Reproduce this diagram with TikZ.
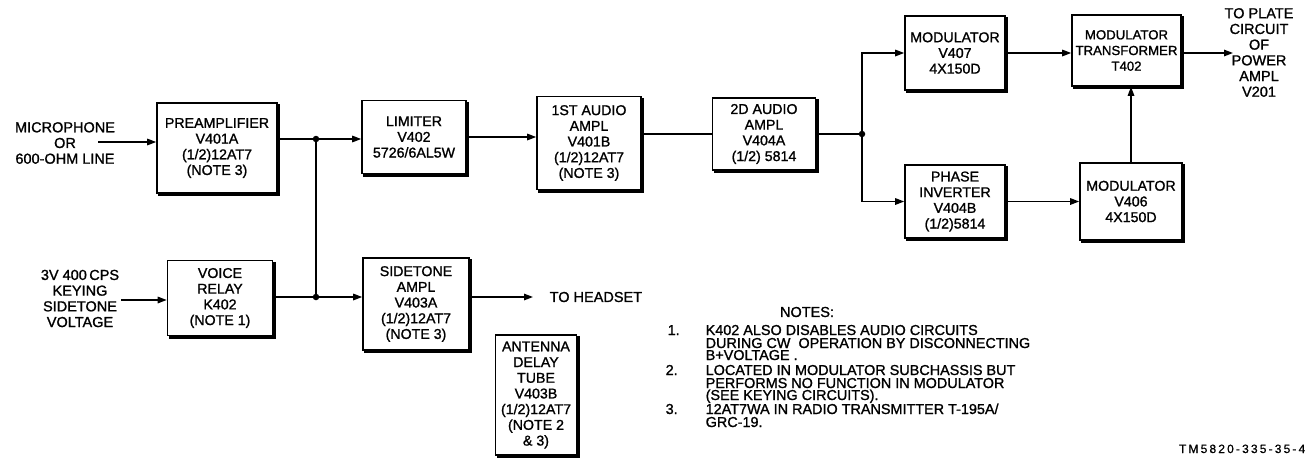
\documentclass[tikz,border=0pt]{standalone}
\usepackage{fontspec}
\setmainfont{Liberation Sans}[FakeBold=1.2]
\newfontfamily\tmfont{Liberation Sans}[LetterSpace=18,FakeBold=0.6]
\usetikzlibrary{arrows.meta}
\begin{document}
\begin{tikzpicture}[x=1pt,y=-1pt,line width=1.4pt,
  box/.style={draw,line width=1.6pt,fill=white,align=center,inner sep=0pt,
    font=\fontsize{14.2}{15.7}\selectfont,
    preaction={fill=black,draw=black,transform canvas={xshift=2.2pt,yshift=-2.2pt}}},
  lbl/.style={align=center,inner sep=0pt,font=\fontsize{14.5}{15.7}\selectfont},
  note/.style={anchor=base west,inner sep=0pt,font=\fontsize{14.4}{13.4}\selectfont},
  arr/.style={-{Triangle[length=9pt,width=6.5pt]}},
  jdot/.style={circle,fill,inner sep=0pt,minimum size=6.5pt}]
\useasboundingbox (0,0) rectangle (1310,464);

% boxes
\node[box,minimum width=120pt,minimum height=90pt] (pre) at (217,148) {PREAMPLIFIER\\V401A\\(1/2)12AT7\\(NOTE 3)};
\node[box,minimum width=105pt,minimum height=75pt] (voice) at (220,298) {VOICE\\RELAY\\K402\\(NOTE 1)};
\node[box,minimum width=104pt,minimum height=73pt] (lim) at (414,137) {LIMITER\\V402\\5726/6AL5W};
\node[box,minimum width=104pt,minimum height=93pt] (aud1) at (589,143) {1ST AUDIO\\AMPL\\V401B\\(1/2)12AT7\\(NOTE 3)};
\node[box,minimum width=106pt,minimum height=92pt] (side) at (416,304) {SIDETONE\\AMPL\\V403A\\(1/2)12AT7\\(NOTE 3)};
\node[box,minimum width=81pt,minimum height=120pt] (ant) at (536,395) {ANTENNA\\DELAY\\TUBE\\V403B\\(1/2)12AT7\\(NOTE 2\\\& 3)};
\node[box,minimum width=103pt,minimum height=72pt] (aud2) at (764,134) {2D AUDIO\\AMPL\\V404A\\(1/2) 5814};
\node[box,minimum width=100pt,minimum height=74pt] (m407) at (955,53) {MODULATOR\\V407\\4X150D};
\node[box,minimum width=100pt,minimum height=73pt] (phase) at (955,201.5) {PHASE\\INVERTER\\V404B\\(1/2)5814};
\node[box,minimum width=109pt,minimum height=71pt,font=\fontsize{13.2}{15.7}\selectfont] (trans) at (1126.5,50.5) {MODULATOR\\TRANSFORMER\\T402};
\node[box,minimum width=102pt,minimum height=77pt] (m406) at (1131,201.5) {MODULATOR\\V406\\4X150D};

% labels
\node[lbl] (micro) at (65,143) {MICROPHONE\\OR\\600-OHM LINE};
\node[lbl] (key) at (80,298.5) {3V 400\,CPS\\KEYING\\SIDETONE\\VOLTAGE};
\node[lbl,anchor=west] (headset) at (549,297) {TO HEADSET};
\node[lbl] (plate) at (1259,52.5) {TO PLATE\\CIRCUIT\\OF\\POWER\\AMPL\\V201};

% connection points
\coordinate (ms) at (98,142);
\coordinate (ks) at (121,300);
\coordinate (j1) at (316,139);
\coordinate (j2) at (316,297);
\coordinate (hd) at (533,297);
\coordinate (j3) at (862,134);
\coordinate (pe) at (1233,53);

% connectors
\draw[arr] (ms) -- (ms -| pre.west);
\draw[arr] (ks) -- (ks -| voice.west);
\draw (pre.east |- j1) -- (j1);
\draw[arr] (j1) -- (j1 -| lim.west);
\draw (j1) -- (j2);
\draw (voice.east |- j2) -- (j2);
\draw[arr] (j2) -- (j2 -| side.west);
\draw[arr] (side.east |- hd) -- (hd);
\draw[arr] (lim.east) -- (lim.east -| aud1.west);
\draw (aud1.east |- aud2.west) -- (aud2.west);
\draw (aud2.east) -- (j3);
\draw[arr] (j3) |- (m407.west);
\draw[arr] (j3) |- (phase.west);
\draw[arr] (m407.east) -- (m407.east -| trans.west);
\draw[arr] (phase.east) -- (phase.east -| m406.west);
\draw[arr] (m406.north) -- (m406.north |- trans.south);
\draw[arr] (trans.east |- pe) -- (pe);
\node[jdot] (d1) at (j1) {};
\node[jdot] (d2) at (j2) {};
\node[jdot] (d3) at (j3) {};

% notes
\node[lbl] (notes) at (807,312) {NOTES:};
\node[note] (k1) at (667,335) {1.};
\node[note] (t1a) at (705,335) {K402 ALSO DISABLES AUDIO CIRCUITS};
\node[note] (t1b) at (705,348) {DURING CW\ \ OPERATION BY DISCONNECTING};
\node[note] (t1c) at (705,360) {B+VOLTAGE .};
\node[note] (k2) at (665,375) {2.};
\node[note] (t2a) at (705,375) {LOCATED IN MODULATOR SUBCHASSIS BUT};
\node[note] (t2b) at (705,388) {PERFORMS NO FUNCTION IN MODULATOR};
\node[note] (t2c) at (705,400) {(SEE KEYING CIRCUITS).};
\node[note] (k3) at (665,414) {3.};
\node[note] (t3a) at (705,414) {12AT7WA IN RADIO TRANSMITTER T-195A/};
\node[note] (t3b) at (705,427) {GRC-19.};

\node[anchor=base east,inner sep=0pt,font=\tmfont\fontsize{12}{12}\selectfont] (tm) at (1306,453) {TM5820-335-35-4};
\end{tikzpicture}
\end{document}
